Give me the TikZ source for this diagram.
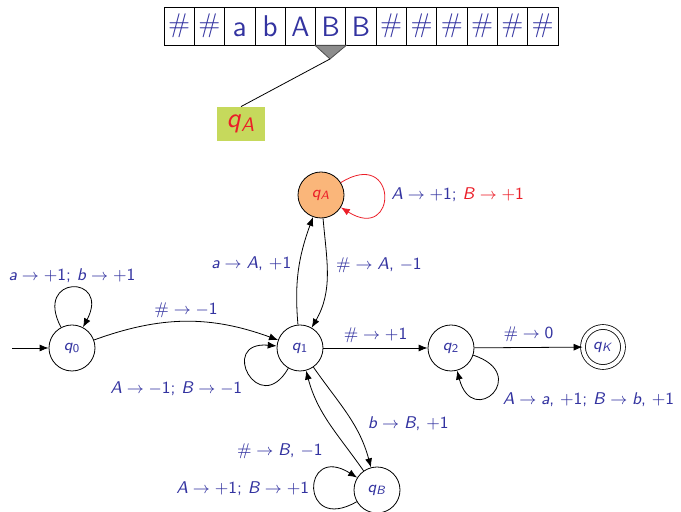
\documentclass[tikz,border=0pt]{standalone}
\usetikzlibrary{arrows.meta}
\definecolor{txtblue}{RGB}{51,51,160}
\definecolor{hred}{RGB}{235,30,40}
\definecolor{qaorange}{RGB}{250,182,122}
\definecolor{boxgreen}{RGB}{198,217,92}
\definecolor{headgray}{RGB}{140,140,140}
\newcommand{\hsh}{\textrm{\#}}
\newcommand{\tr}{\hspace{2.4pt}$\rightarrow$\hspace{2.4pt}}
\newcommand{\mi}[1]{\textit{#1}}
\newcommand{\mn}{$-$}
\newcommand{\qs}[1]{\textit{q}\textsubscript{#1}}
\tikzset{
  st/.style={circle,draw,minimum size=23pt,inner sep=0pt,text=txtblue,font=\sffamily\fontsize{8}{10}\selectfont},
  acc/.style={st,minimum size=20pt,double,double distance=2pt},
  cellbase/.style={draw,minimum width=15.15pt,minimum height=19pt,inner sep=0pt,text=txtblue},
  cell/.style={cellbase,text height=12pt,text depth=1pt,font=\sffamily\fontsize{14}{16}\selectfont},
  lcell/.style={cell,font=\sffamily\fontsize{15}{17}\selectfont},
  hcell/.style={cellbase,font=\fontsize{13.5}{15}\selectfont},
  lab/.style={text=txtblue,font=\sffamily\fontsize{8.5}{10}\selectfont,inner sep=1.5pt},
  edge/.style={-{Latex[length=4.5pt,width=3.5pt]}},
}
\begin{document}
\begin{tikzpicture}[x=0.5pt,y=-0.5pt]
\useasboundingbox (0,0) rectangle (681,512);
% tape
\foreach \i/\t/\s in {0/\hsh/hcell,1/\hsh/hcell,2/a/lcell,3/b/lcell,4/A/cell,5/B/cell,6/B/cell,7/\hsh/hcell,8/\hsh/hcell,9/\hsh/hcell,10/\hsh/hcell,11/\hsh/hcell,12/\hsh/hcell}
  \node[\s] (c\i) at ({164+15.15+30.3*\i},26) {\t};
\coordinate (apex) at (330,59);
\draw[fill=headgray,draw=black!70] (c5.south west) -- (c5.south east) -- (apex) -- cycle;
\node[fill=boxgreen,minimum width=24pt,minimum height=17pt,inner sep=0pt,text=hred,font=\sffamily\fontsize{14}{16}\selectfont] (box) at (241,124) {\qs{\textit{A}}};
\draw (apex) -- (box.north);
% states
\node[st] (q0) at (72,348) {\qs{0}};
\node[st] (q1) at (300,348) {\qs{1}};
\node[st] (q2) at (451,348) {\qs{2}};
\node[acc] (qK) at (603,347) {\qs{\textit{K}}};
\node[st,fill=qaorange,text=hred] (qA) at (321,195) {\qs{\textit{A}}};
\node[st] (qB) at (377,490) {\qs{\textit{B}}};
\coordinate (init) at (12,348);
% edges
\draw[edge] (init) -- (q0);
\draw[edge] (q0) to[out=118,in=62,looseness=7] node[lab,above,yshift=1pt] {\mi{a}\tr+1; \mi{b}\tr+1} (q0);
\draw[edge] (q0) to[bend left=20] node[lab,above] {\hsh\tr\mn1} (q1);
\draw[edge] (q1) to[out=240,in=175,looseness=6] node[lab,pos=0.45,anchor=north east,xshift=-3pt] {\mi{A}\tr\mn1; \mi{B}\tr\mn1} (q1);
\draw[edge] (q1) to[out=95,in=-110] node[lab,left,xshift=-2pt,yshift=3pt] {\mi{a}\tr\mi{A}, +1} (qA);
\draw[edge] (qA) to[out=-85,in=60] node[lab,right,xshift=3pt,yshift=5pt] {\hsh\tr\mi{A}, \mn1} (q1);
\draw[edge,hred] (qA) to[out=32,in=-32,looseness=7] node[lab,right,xshift=2pt] {\mi{A}\tr+1; \textcolor{hred}{\mi{B}\tr+1}} (qA);
\draw[edge] (q1) -- node[lab,above,yshift=1pt] {\hsh\tr+1} (q2);
\draw[edge] (q2) -- node[lab,above,yshift=1pt] {\hsh\tr0} (qK);
\draw[edge] (q2) to[out=-18,in=-75,looseness=7] node[lab,pos=0.45,anchor=north west,xshift=2pt,yshift=0pt] {\mi{A}\tr\mi{a}, +1; \mi{B}\tr\mi{b}, +1} (q2);
\draw[edge] (q1) to[out=-55,in=105] node[lab,pos=0.55,anchor=west,xshift=7pt,yshift=-2pt] {\mi{b}\tr\mi{B}, +1} (qB);
\draw[edge] (qB) to[out=125,in=-75] node[lab,pos=0.3,left,xshift=-8pt,yshift=-5pt] {\hsh\tr\mi{B}, \mn1} (q1);
\draw[edge] (qB) to[out=210,in=148,looseness=7] node[lab,left,xshift=-1pt] {\mi{A}\tr+1; \mi{B}\tr+1} (qB);
\end{tikzpicture}
\end{document}
